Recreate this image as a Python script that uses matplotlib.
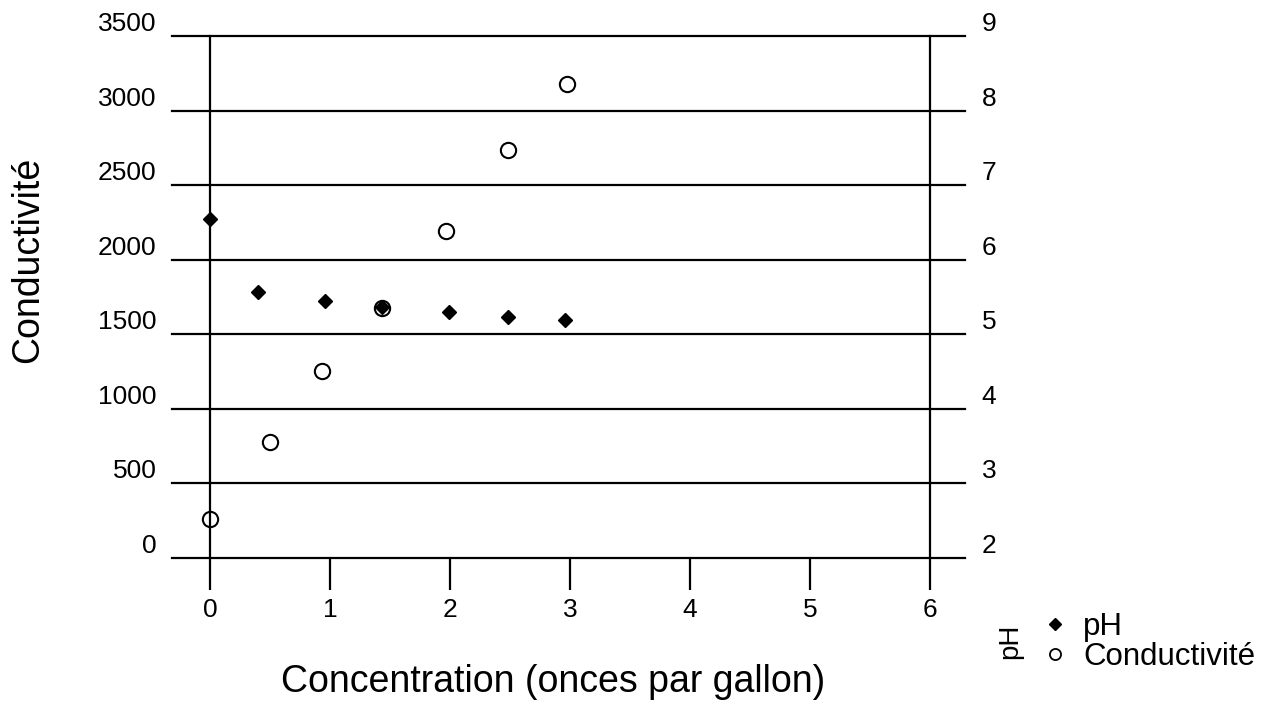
import matplotlib
matplotlib.use('Agg')
from matplotlib import pyplot as plt
from matplotlib.lines import Line2D

plt.rcParams['font.family'] = ['Liberation Sans', 'DejaVu Sans']

# valeurs
conc_cond = [0.0, 0.5, 0.93, 1.43, 1.97, 2.48, 2.97]
conductivite = [260, 775, 1255, 1675, 2190, 2735, 3175]
conc_ph = [0.0, 0.4, 0.96, 1.43, 1.99, 2.48, 2.96]
ph = [6.54, 5.57, 5.44, 5.36, 5.30, 5.23, 5.19]

cond_ticks = [0, 500, 1000, 1500, 2000, 2500, 3000, 3500]
ph_ticks = [2, 3, 4, 5, 6, 7, 8, 9]
x_ticks = [0, 1, 2, 3, 4, 5, 6]

fig = plt.figure(figsize=(12.79, 7.06), dpi=100)
ax = fig.add_axes([172 / 1279, 1 - 558 / 706, (965 - 172) / 1279, (558 - 36) / 706])
ax2 = ax.twinx()

ax.set_xlim(-0.317, 6.29)
ax.set_ylim(0, 3500)
ax2.set_ylim(2, 9)

for a in (ax, ax2):
    for s in a.spines.values():
        s.set_visible(False)

ax.set_yticks(cond_ticks)
ax.set_yticklabels([str(v) for v in cond_ticks])
ax2.set_yticks(ph_ticks)
ax2.set_yticklabels([str(v) for v in ph_ticks])
ax.set_xticks(x_ticks)
ax.set_xticklabels([str(v) for v in x_ticks])

for v in cond_ticks:
    ax.axhline(v, color='black', lw=1.6, zorder=1, clip_on=False)
ax.axvline(0, color='black', lw=1.6, zorder=1, clip_on=False)
ax.axvline(6, color='black', lw=1.6, zorder=1, clip_on=False)

ax.tick_params(axis='y', length=0, pad=11, labelsize=19)
ax2.tick_params(axis='y', length=0, pad=12, labelsize=19)
ax.tick_params(axis='x', length=23, width=1.6, direction='out', pad=6, labelsize=19)
for t in ax.get_yticklabels() + ax2.get_yticklabels():
    t.set_verticalalignment('bottom')

ax2.plot(conc_ph, ph, linestyle='none', marker='D', ms=7, color='black', zorder=3)
ax.plot(conc_cond, conductivite, linestyle='none', marker='o', ms=11, mfc='none', mec='black', mew=1.5, zorder=2)

fig.text(28 / 1279, 1 - 260 / 706, 'Conductivité', rotation=90, ha='center', va='center', fontsize=27)
fig.text(553 / 1279, 1 - 682 / 706, 'Concentration (onces par gallon)', ha='center', va='center', fontsize=27)
fig.text(1010 / 1279, 1 - 641 / 706, 'pH', rotation=90, ha='center', va='center', fontsize=20)

handles = [
    Line2D([], [], linestyle='none', marker='D', ms=6, color='black'),
    Line2D([], [], linestyle='none', marker='o', ms=8, mfc='none', mec='black', mew=1.3),
]
fig.legend(handles, ['pH', 'Conductivité'], loc='center left', bbox_to_anchor=(1024 / 1279, 1 - 642 / 706),
           frameon=False, fontsize=22.5, handlelength=1, handletextpad=0.4, labelspacing=0.0, borderpad=0)

fig.savefig('out.png', dpi=100)
